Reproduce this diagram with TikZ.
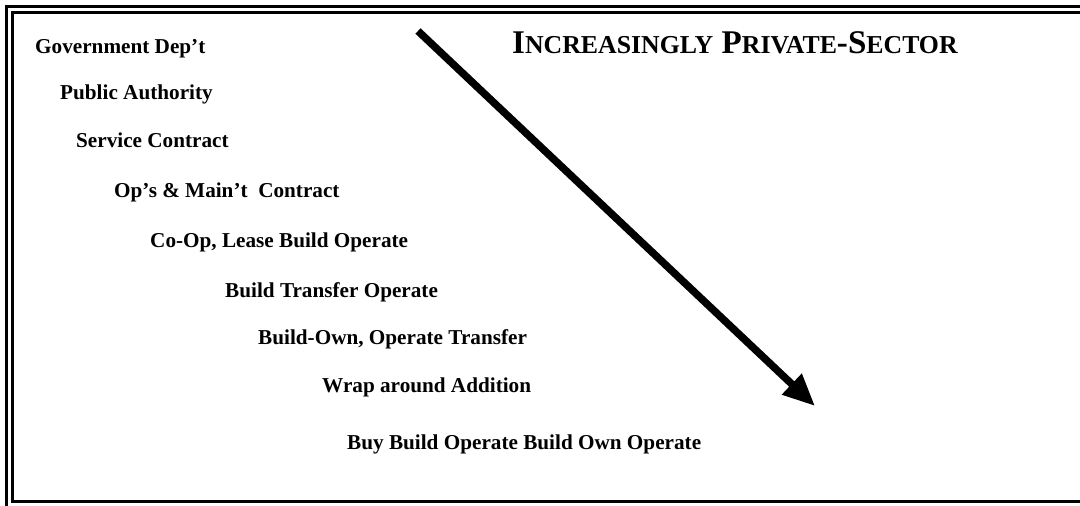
\documentclass[tikz,border=0pt]{standalone}
\usepackage{fontspec}
\setmainfont{Liberation Serif}
\usetikzlibrary{arrows.meta}
\newcommand\smc[1]{{\fontsize{25.8}{26}\selectfont #1}}
\begin{document}
\begin{tikzpicture}[x=1pt,y=-1pt,
  item/.style={anchor=base west,inner sep=0pt,font=\fontsize{21.2}{22}\selectfont\bfseries},
  titletext/.style={anchor=base west,inner sep=0pt,font=\fontsize{33.1}{34}\selectfont\bfseries},
  frame/.style={line width=3pt,line cap=butt},
  bigarrow/.style={line width=7.5pt,-{Triangle[length=32pt,width=27pt]}}]
\useasboundingbox (0,0) rectangle (1080,506);
\fill[white] (0,0) rectangle (1080,506);
% frame
\draw[frame] (6,506) -- (6,6.5) -- (1080,6.5);
\draw[frame,line width=2.5pt] (1080,12.5) -- (12.5,12.5) -- (12.5,501.5) -- (1080,501.5);
% texts
\node[item] (n1) at (35,53) {Government Dep’t};
\node[item] (n2) at (60,99) {Public Authority};
\node[item] (n3) at (76,147) {Service Contract};
\node[item] (n4) at (114,197) {Op’s \& Main’t\ \ Contract};
\node[item] (n5) at (150,247) {Co-Op, Lease Build Operate};
\node[item] (n6) at (225,297) {Build Transfer Operate};
\node[item] (n7) at (258,344) {Build-Own, Operate Transfer};
\node[item] (n8) at (322,392) {Wrap around Addition};
\node[item] (n9) at (347,449) {Buy Build Operate Build Own Operate};
\node[titletext] (t) at (512,53) {I\smc{NCREASINGLY} P\smc{RIVATE}-S\smc{ECTOR}};
% arrow
\coordinate (a0) at (418,31);
\coordinate (a1) at (815,406);
\draw[bigarrow] (a0) -- (a1);
\end{tikzpicture}
\end{document}
